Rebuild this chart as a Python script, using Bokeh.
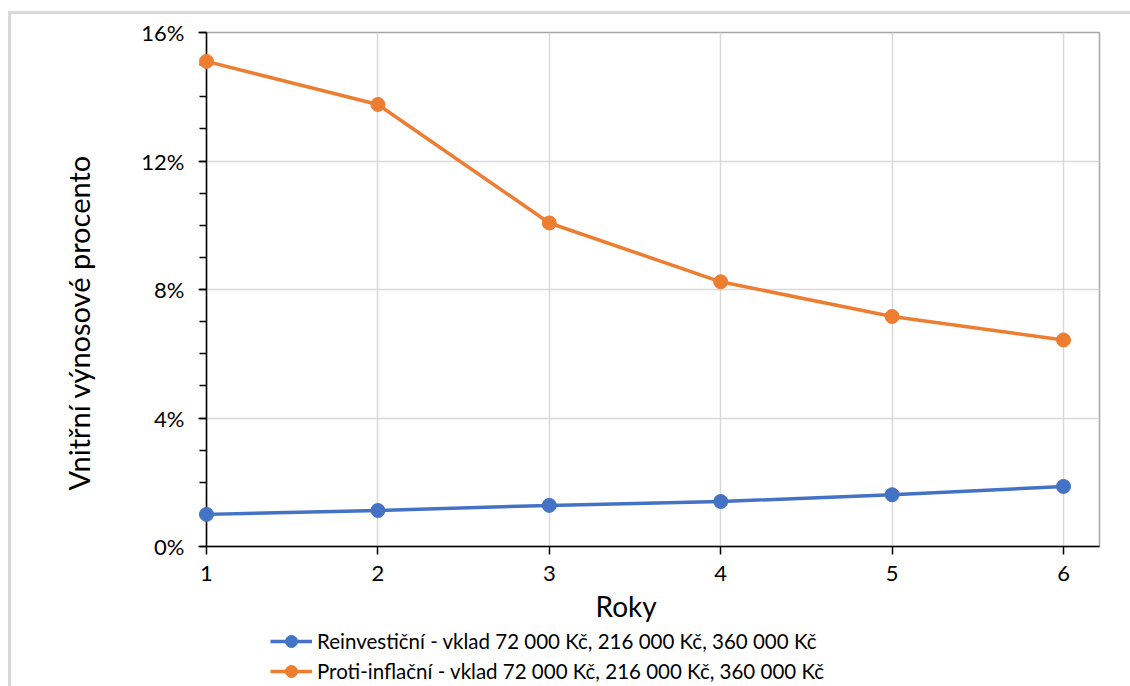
from bokeh.plotting import figure
from bokeh.layouts import column
from bokeh.models import (Range1d, FixedTicker, SingleIntervalTicker, PrintfTickFormatter,
                          Legend, LegendItem, Title)
from bokeh.embed import file_html
from bokeh.resources import INLINE

# Internal rate of return by holding period (years)
years = [1, 2, 3, 4, 5, 6]
reinvest_pct = [1.00, 1.12, 1.28, 1.40, 1.61, 1.87]
anti_infl_pct = [15.10, 13.76, 10.07, 8.24, 7.16, 6.43]
series_names = [
    "Reinvestiční - vklad 72 000 Kč, 216 000 Kč, 360 000 Kč",
    "Proti-inflační - vklad 72 000 Kč, 216 000 Kč, 360 000 Kč",
]
series_colors = ["#4472C4", "#ED7D31"]
x_title = "Roky"
y_title = "Vnitřní výnosové procento"
FONT = "Lato"

LINE_W = 3.5
MARK = 14

p = figure(frame_width=893, frame_height=514, output_backend="svg", toolbar_location=None,
           x_range=Range1d(1, 6.21), y_range=Range1d(0, 16),
           min_border_left=195, min_border_right=31, min_border_top=18, min_border_bottom=76)

p.background_fill_color = "white"
p.border_fill_color = "white"
p.outline_line_color = "#a6a6a6"
p.outline_line_width = 1.5

# grid
p.xgrid.ticker = FixedTicker(ticks=years)
p.xgrid.grid_line_color = "#d9d9d9"
p.xgrid.grid_line_width = 1.5
p.ygrid.grid_line_color = "#d9d9d9"
p.ygrid.grid_line_width = 1.5

# x axis
xa = p.xaxis[0]
xa.ticker = FixedTicker(ticks=years)
xa.axis_line_color = "black"
xa.axis_line_width = 1.5
xa.major_tick_line_color = "black"
xa.major_tick_line_width = 1.5
xa.major_tick_in = 0
xa.major_tick_out = 8
xa.minor_tick_line_color = None
xa.major_label_text_font = FONT
xa.major_label_text_font_size = "22px"
xa.major_label_text_color = "black"
xa.major_label_standoff = 11

# y axis
ya = p.yaxis[0]
ya.ticker = SingleIntervalTicker(interval=4, num_minor_ticks=4)
ya.formatter = PrintfTickFormatter(format="%d%%")
ya.axis_line_color = "black"
ya.axis_line_width = 1.5
ya.major_tick_line_color = "black"
ya.major_tick_line_width = 1.5
ya.major_tick_in = 0
ya.major_tick_out = 8
ya.minor_tick_line_color = "black"
ya.minor_tick_line_width = 1.5
ya.minor_tick_in = 0
ya.minor_tick_out = 7
ya.major_label_text_font = FONT
ya.major_label_text_font_size = "22px"
ya.major_label_text_color = "black"
ya.major_label_standoff = 14

# axis titles as side-panel titles, anchored at the start of each axis
p.add_layout(Title(text=x_title, align="left", offset=389, standoff=6,
                   text_font=FONT, text_font_size="28px", text_font_style="normal",
                   text_color="black"), "below")
p.add_layout(Title(text=y_title, align="left", offset=56, standoff=86,
                   text_font=FONT, text_font_size="29px", text_font_style="normal",
                   text_color="black"), "left")

for vals, color in zip([reinvest_pct, anti_infl_pct], series_colors):
    p.line(years, vals, line_color=color, line_width=LINE_W, level="overlay")
    p.scatter(years, vals, size=MARK, fill_color=color, line_color=color, level="overlay")

# legend strip underneath the chart (its ranges keep the series themselves out of view)
lg = figure(width=893 + 195 + 31, height=64, output_backend="svg", toolbar_location=None,
            x_range=Range1d(-20, -10), y_range=Range1d(-20, -10),
            x_axis_type=None, y_axis_type=None,
            min_border_left=0, min_border_right=0, min_border_top=0, min_border_bottom=0)
lg.xgrid.visible = False
lg.ygrid.visible = False
lg.outline_line_color = None
lg.background_fill_color = "white"
lg.border_fill_color = "white"

items = []
for vals, name, color in zip([reinvest_pct, anti_infl_pct], series_names, series_colors):
    ln = lg.line(years, vals, line_color=color, line_width=LINE_W)
    sc = lg.scatter(years, vals, size=MARK, fill_color=color, line_color=color)
    items.append(LegendItem(label=name, renderers=[ln, sc]))

legend = Legend(items=items, location=(64, 3), orientation="vertical",
                padding=0, margin=0, spacing=0, label_height=30, glyph_height=30,
                glyph_width=42, label_standoff=5,
                label_text_font=FONT, label_text_font_size="20.5px", label_text_color="black",
                border_line_color=None, background_fill_alpha=0)
lg.add_layout(legend, "center")

page = column(p, lg, spacing=0, margin=(11, 0, 0, 8),
              styles={"border-left": "3px solid #d9d9d9", "border-top": "3px solid #d9d9d9"})

open("out.html", "w").write(file_html(page, INLINE))
